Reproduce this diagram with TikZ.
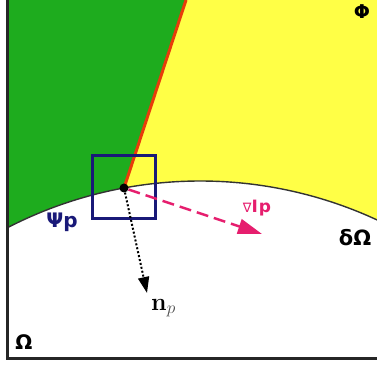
\documentclass[tikz,border=0pt]{standalone}
\usepackage[no-math]{fontspec}
\setmainfont{DejaVu Sans}
\usetikzlibrary{arrows.meta,positioning}
\definecolor{phiyellow}{RGB}{255,255,70}
\definecolor{psigreen}{RGB}{30,172,30}
\definecolor{edgered}{RGB}{232,60,10}
\definecolor{windowblue}{RGB}{25,25,120}
\definecolor{gradpink}{RGB}{230,30,110}

\begin{document}
\begin{tikzpicture}[
  x=1pt, y=1pt,
  dot/.style={circle, fill=black, inner sep=0pt, minimum size=9pt},
  window/.style={draw=windowblue, line width=3pt, minimum size=63pt, inner sep=0pt},
  lbl/.style={font=\bfseries\fontsize{20}{20}\selectfont, inner sep=0pt},
  normalarr/.style={draw, line width=2pt, dotted, -{Triangle[length=16pt,width=11pt]}},
  gradarr/.style={draw=gradpink, line width=2.4pt, dash pattern=on 12pt off 6pt,
                  -{Triangle[length=24pt,width=15pt,fill=gradpink]}}
]
  \useasboundingbox (0,0) rectangle (377,369);
  \begin{scope}
    \clip (7,11) rectangle (377,369);
    \fill[psigreen] (0,369) -- (186,369) -- (124,181) -- (124,0) -- (0,0) -- cycle;
    \fill[phiyellow] (186,369) -- (377,369) -- (377,0) -- (124,0) -- (124,181) -- cycle;
    \fill[white] (200.2,-233) circle[radius=421];
    \draw[edgered, line width=3pt] (124,181) -- (186,369);
    \draw[black!80, line width=1.4pt] (200.2,-233) ++(125:421) arc[start angle=125, end angle=58, radius=421];
  \end{scope}
  \draw[black!85, line width=2.8pt] (7.5,369) -- (7.5,10.5) -- (377,10.5);

  \node[dot] (p) at (124,181) {};
  \node[window] (win) at (123.5,181.5) {};
  \coordinate (nend) at (147,76);
  \coordinate (gend) at (262,135);
  \draw[normalarr] (p) -- (nend);
  \draw[gradarr] (p) -- (gend);

  \node[lbl, text=windowblue] (psi) at (62,147) {Ψp};
  \node[lbl, text=gradpink, font=\bfseries\fontsize{17}{17}\selectfont] (grad) at (257,161)
    {{\fontsize{13}{13}\selectfont\mdseries ∇}I\kern1pt p};
  \node[lbl, font=\bfseries\fontsize{21}{21}\selectfont] (bdry) at (355,131) {δΩ};
  \node[inner sep=0pt, anchor=north west, font=\fontsize{24}{24}\selectfont] (np) at (151,70)
    {$\mathbf{n}_{\color{black!70}p}$};
  \node[lbl] (omega) at (24,27) {Ω};
  \node[lbl, font=\bfseries\fontsize{19}{19}\selectfont] (phi) at (362,357) {Φ};
\end{tikzpicture}
\end{document}
